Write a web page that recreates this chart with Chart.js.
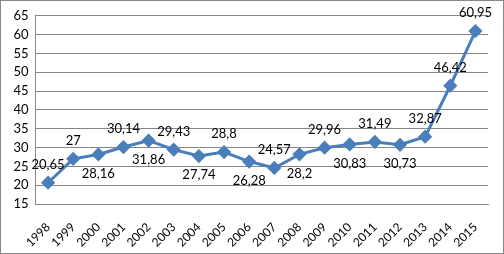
<!DOCTYPE html>
<html>
<head>
<meta charset="utf-8">
<script src="https://cdn.jsdelivr.net/npm/chart.js@4/dist/chart.umd.min.js"></script>
<style>
  html, body { margin: 0; padding: 0; background: #fff; }
  #wrap { width: 504px; height: 254px; box-sizing: border-box; border: 1px solid #878787; }
  canvas { display: block; }
</style>
</head>
<body>
<div id="wrap"><canvas id="chart" width="502" height="252"></canvas></div>
<script>
// --- datos ---
const years = ['1998', '1999', '2000', '2001', '2002', '2003', '2004', '2005', '2006',
               '2007', '2008', '2009', '2010', '2011', '2012', '2013', '2014', '2015'];
const values = [20.65, 27, 28.16, 30.14, 31.86, 29.43, 27.74, 28.8, 26.28,
                24.57, 28.2, 29.96, 30.83, 31.49, 30.73, 32.87, 46.42, 60.95];
// posición de cada etiqueta respecto al punto
const labelSide = ['up', 'up', 'down', 'up', 'down', 'up', 'down', 'up', 'down',
                   'up', 'down', 'up', 'down', 'up', 'down', 'up', 'up', 'up'];
const yMin = 15, yMax = 65, yStep = 5;

const FONT = 'Lato, "Open Sans", sans-serif';
const LINE_COLOR = '#4A7EBB';

// etiquetas de datos (sin plugin externo)
const valueLabels = {
    id: 'valueLabels',
    afterDatasetsDraw(chart) {
        const { ctx } = chart;
        const meta = chart.getDatasetMeta(0);
        ctx.save();
        ctx.font = '13px ' + FONT;
        ctx.fillStyle = '#000';
        ctx.textAlign = 'center';
        ctx.textBaseline = 'middle';
        meta.data.forEach((pt, i) => {
            const txt = String(values[i]).replace('.', ',');
            const dy = labelSide[i] === 'up' ? -18 : 19;
            ctx.fillText(txt, pt.x, pt.y + dy);
        });
        ctx.restore();
    }
};

new Chart(document.getElementById('chart').getContext('2d'), {
    type: 'line',
    data: {
        labels: years,
        datasets: [{
            data: values,
            borderColor: LINE_COLOR,
            backgroundColor: LINE_COLOR,
            borderWidth: 3,
            pointStyle: 'rectRot',
            pointRadius: 5,
            pointBackgroundColor: LINE_COLOR,
            pointBorderColor: LINE_COLOR,
            tension: 0
        }]
    },
    options: {
        responsive: false,
        animation: false,
        layout: { padding: { top: 14, right: 15, bottom: 0, left: 0 } },
        plugins: { legend: { display: false }, tooltip: { enabled: false } },
        scales: {
            x: {
                offset: true,
                grid: { display: false },
                border: { display: true, color: '#868686', width: 1 },
                ticks: {
                    color: '#000',
                    font: { family: FONT, size: 12 },
                    minRotation: 45,
                    maxRotation: 45,
                    padding: 8
                },
                afterFit: (s) => { s.height = 49; }
            },
            y: {
                min: yMin,
                max: yMax,
                grid: { color: '#868686', drawTicks: false },
                border: { display: true, color: '#868686', width: 1 },
                ticks: {
                    stepSize: yStep,
                    color: '#000',
                    font: { family: FONT, size: 13 },
                    padding: 7
                },
                afterFit: (s) => { s.width = 34.5; }
            }
        }
    },
    plugins: [valueLabels]
});
</script>
</body>
</html>
